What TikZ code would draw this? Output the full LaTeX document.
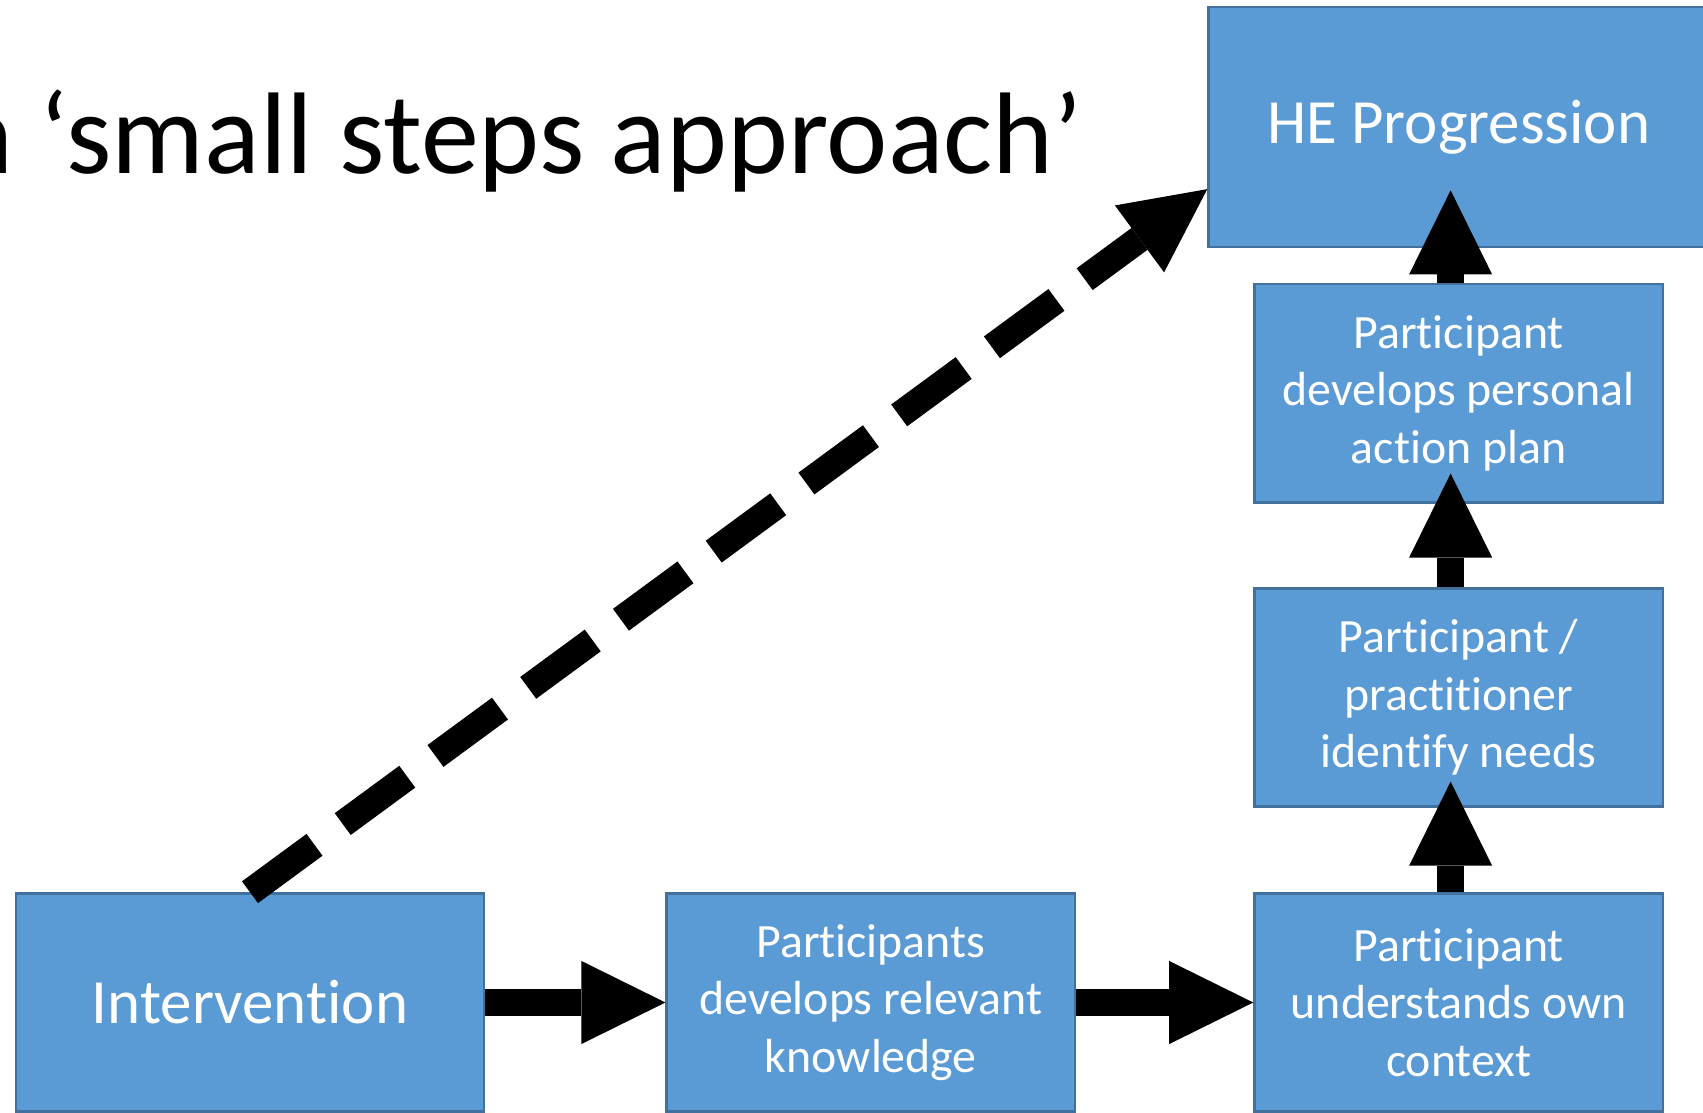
\documentclass[tikz,border=0pt]{standalone}
\usepackage{fontspec}
\setmainfont{Carlito}[Ligatures=NoCommon]
\usepackage{xcolor}
\usepackage{tikz}
\usetikzlibrary{arrows.meta,positioning}
\definecolor{stagefill}{HTML}{5B9BD5}
\definecolor{stageedge}{HTML}{41719C}

\begin{document}
\begin{tikzpicture}[
  x=0.01cm, y=-0.01cm,
  font=\fontsize{13.6}{16.4}\selectfont,
  stage/.style={draw=stageedge, fill=stagefill, line width=0.7pt, text=white, align=center, minimum width=4.08cm, minimum height=2.18cm, inner sep=4pt},
  goal/.style={stage, minimum width=4.68cm, font=\fontsize{17.9}{21}\selectfont},
  push/.style={-{Triangle[length=8.4mm,width=8.3mm,line width=0pt]}, line width=2.7mm},
  leap/.style={push, dash pattern=on 8mm off 3.5mm},
]
  \useasboundingbox (0,0) rectangle (1703,1113);
  \node[anchor=base west, inner sep=0pt, font=\fontsize{33}{40}\selectfont] (title) at (-48,174) {n ‘small steps approach’};
  \node[goal] (interv) at (250,1002.5) {Intervention};
  \node[stage, right=1.80cm of interv] (know) {Participants\\develops relevant\\knowledge};
  \node[stage, right=1.77cm of know] (ctx) {Participant\\understands own\\context};
  \node[stage, above=0.845cm of ctx] (needs) {Participant /\\practitioner\\identify needs};
  \node[stage, above=0.835cm of needs] (plan) {Participant\\develops personal\\action plan};
  \node[goal, minimum width=5cm, minimum height=2.4cm, above=0.345cm of plan] (he) {HE Progression};
  \draw[push] (interv) -- (know);
  \draw[push] (know) -- (ctx);
  \foreach \a/\b/\d in {ctx/needs/0.26, needs/plan/0.30, plan/he/0.58}
    \draw[push] ([xshift=-0.08cm]\a.north) -- ([xshift=-0.08cm, yshift=\d cm]\b.south);
  \draw[leap] (interv.north) -- ([yshift=-0.62cm]he.west);
\end{tikzpicture}
\end{document}
